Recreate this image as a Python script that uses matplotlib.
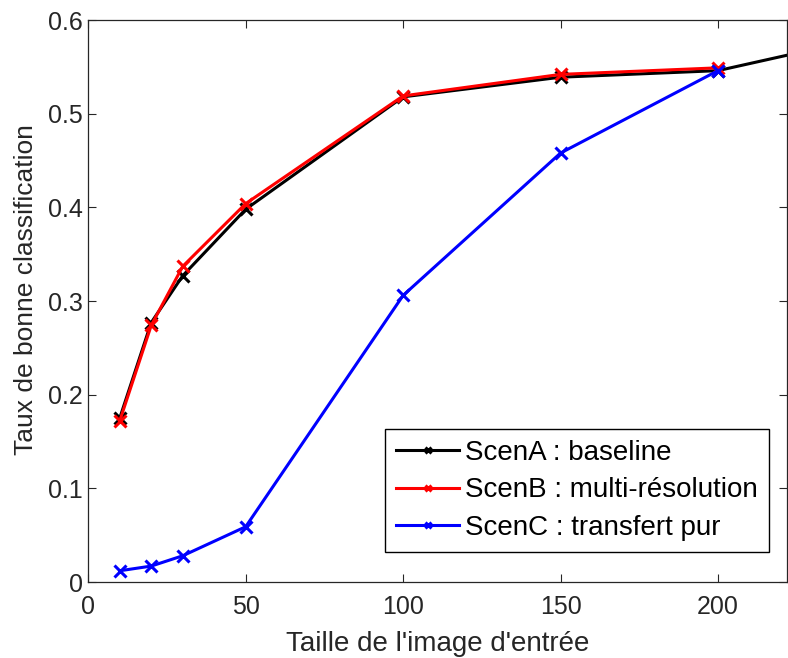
import matplotlib
matplotlib.use("Agg")
import matplotlib.pyplot as plt

plt.rcParams['font.family'] = ['Liberation Sans', 'DejaVu Sans']

x_a = [10, 20, 30, 50, 100, 150, 200, 224]
scen_a = [0.175, 0.277, 0.327, 0.398, 0.518, 0.539, 0.546, 0.564]
x_bc = [10, 20, 30, 50, 100, 150, 200]
scen_b = [0.172, 0.274, 0.337, 0.404, 0.519, 0.542, 0.549]
scen_c = [0.012, 0.017, 0.028, 0.059, 0.306, 0.458, 0.546]
labels = ["ScenA : baseline", "ScenB : multi-résolution", "ScenC : transfert pur"]
xticks = [0, 50, 100, 150, 200]
yticks = [0, 0.1, 0.2, 0.3, 0.4, 0.5, 0.6]

fig = plt.figure(figsize=(7.88, 6.58), dpi=100)
ax = fig.add_axes([0.112, 0.1155, 0.887, 0.854])
kw = dict(linewidth=2.2, marker='x', markersize=8, markeredgewidth=2.2)
ax.plot(x_a, scen_a, color='black', label=labels[0], **kw)
ax.plot(x_bc, scen_b, color='red', label=labels[1], **kw)
ax.plot(x_bc, scen_c, color='blue', label=labels[2], **kw)

ax.set_xlim(0, 222)
ax.set_ylim(0, 0.6)
ax.set_xticks(xticks)
ax.set_yticks(yticks)
ax.set_yticklabels(['0', '0.1', '0.2', '0.3', '0.4', '0.5', '0.6'])
ax.tick_params(direction='in', top=True, right=True, labelsize=18,
               colors='#262626', length=6, width=0.8)
ax.tick_params(axis='x', pad=9)
ax.tick_params(axis='y', pad=4)
for s in ax.spines.values():
    s.set_color('#262626')
    s.set_linewidth(0.9)
ax.set_xlabel("Taille de l'image d'entrée", fontsize=20, color='#262626', labelpad=9)
ylab = ax.set_ylabel("Taux de bonne classification", fontsize=19, color='#262626')
ax.yaxis.set_label_coords(-0.072, 0.52)

leg = ax.legend(loc='lower right', bbox_to_anchor=(0.974, 0.053), borderaxespad=0,
                fancybox=False, framealpha=1, edgecolor='black', fontsize=20,
                handlelength=2.27, handletextpad=0.22, labelspacing=0.42,
                borderpad=0.4, markerscale=0.6)
leg.get_frame().set_linewidth(1.0)

fig.savefig("out.png", dpi=100)
